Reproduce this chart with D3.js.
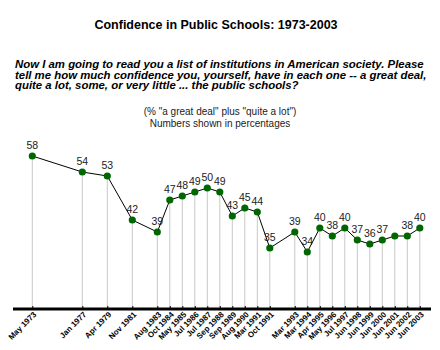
<!DOCTYPE html>
<html><head><meta charset="utf-8">
<script src="https://cdn.jsdelivr.net/npm/d3@7/dist/d3.min.js"></script>
<style>body{margin:0;background:#fff}svg{display:block}</style>
</head><body>
<script>
const categories = ["May 1973","Jan 1977","Apr 1979","Nov 1981","Aug 1983","Oct 1984","May 1985","Jul 1986","Jul 1987","Sep 1988","Sep 1989","Aug 1990","Mar 1991","Oct 1991","Mar 1993","Mar 1994","Apr 1995","May 1996","Jul 1997","Jun 1998","Jun 1999","Jun 2000","Jun 2001","Jun 2002","Jun 2003"];
const values = [58,54,53,42,39,47,48,49,50,49,43,45,44,35,39,34,40,38,40,37,36,37,38,38,40];
const showLabel = [1,1,1,1,1,1,1,1,1,1,1,1,1,1,1,1,1,1,1,1,1,1,0,1,1];
// slot steps between consecutive surveys on the category axis
const steps = [0,4,2,2,2,1,1,1,1,1,1,1,1,1,2,1,1,1,1,1,1,1,1,1,1];
const title = "Confidence in Public Schools: 1973-2003";
const question = ["Now I am going to read you a list of institutions in American society. Please",
  "tell me how much confidence you, yourself, have in each one -- a great deal,",
  "quite a lot, some, or very little ... the public schools?"];
const subtitle = ["(% \"a great deal\" plus \"quite a lot\")", "Numbers shown in percentages"];

const W=440,H=350;
const svg=d3.select("body").append("svg").attr("width",W).attr("height",H);
const slot=[]; steps.reduce((a,s,i)=>(slot[i]=a+s),0);
const x=d3.scaleLinear().domain([0,d3.max(slot)]).range([32.3,419.8]);
const y=d3.scaleLinear().domain([20,60]).range([308,148]);
const data=categories.map((c,i)=>({c,v:values[i],s:slot[i],lab:showLabel[i]}));
const font="Arial, 'Liberation Sans', sans-serif";

svg.append("text").attr("x",216).attr("y",29).attr("text-anchor","middle")
  .attr("font-family",font).attr("font-weight","bold").attr("font-size",12.5).text(title);
svg.append("g").selectAll("text").data(question).join("text")
  .attr("x",15).attr("y",(d,i)=>68+i*10.6).attr("font-family",font).attr("font-weight","bold")
  .attr("font-style","italic").attr("font-size",11.4).attr("fill","#000").text(d=>d);
svg.append("g").selectAll("text").data(subtitle).join("text")
  .attr("x",220).attr("y",(d,i)=>115+i*11.5).attr("text-anchor","middle").attr("font-family",font)
  .attr("font-size",10).attr("fill","#222").text(d=>d);

// drop lines
svg.append("g").selectAll("line").data(data).join("line")
  .attr("x1",d=>x(d.s)).attr("x2",d=>x(d.s)).attr("y1",d=>y(d.v)).attr("y2",y(20))
  .attr("stroke","#c8c8c8").attr("stroke-width",1);

// axis
const ax=svg.append("g").attr("transform",`translate(0,${y(20)})`)
  .call(d3.axisBottom(x).tickValues(slot).tickSize(0).tickFormat((d,i)=>categories[i]));
ax.select(".domain").remove();
ax.append("line").attr("x1",13).attr("x2",431).attr("y1",1).attr("y2",1).attr("stroke","#000").attr("stroke-width",3);
ax.selectAll(".tick").append("line").attr("y1",-2).attr("y2",0).attr("stroke","#000");
ax.selectAll(".tick text").attr("font-family",font).attr("font-size",8).attr("font-weight","bold")
  .attr("fill","#000").attr("text-anchor","end").attr("dy",null).attr("y",0)
  .attr("transform","translate(4,7) rotate(-45)");

// line
svg.append("path").datum(data).attr("fill","none").attr("stroke","#000").attr("stroke-width",1)
  .attr("d",d3.line().x(d=>x(d.s)).y(d=>y(d.v)));
svg.append("g").selectAll("circle").data(data).join("circle")
  .attr("cx",d=>x(d.s)).attr("cy",d=>y(d.v)).attr("r",3.6).attr("fill","#006600");
svg.append("g").selectAll("text").data(data.filter(d=>d.lab)).join("text")
  .attr("x",d=>x(d.s)).attr("y",d=>y(d.v)-7).attr("text-anchor","middle")
  .attr("font-family",font).attr("font-size",10.5).attr("fill","#222").text(d=>d.v);
</script>
</body></html>
